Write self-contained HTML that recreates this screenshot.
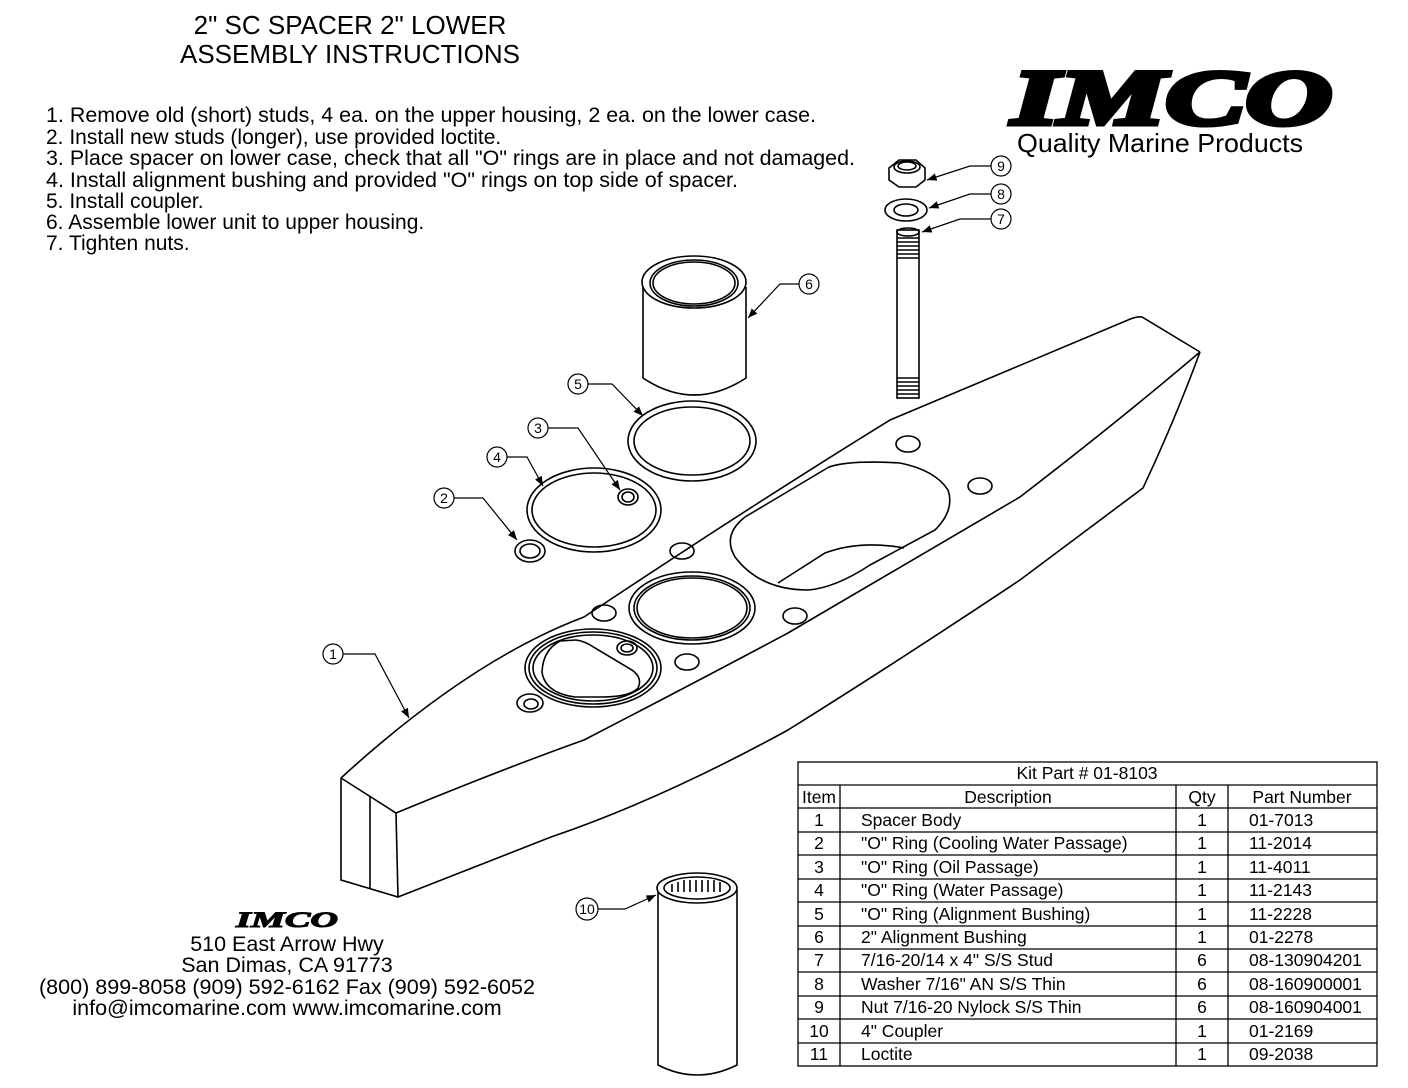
<!DOCTYPE html>
<html><head><meta charset="utf-8"><style>
body{margin:0;background:#fff;width:1408px;height:1088px;overflow:hidden}
svg{display:block}
text{font-family:"Liberation Sans",sans-serif;fill:#000}
</style></head><body>
<svg width="1408" height="1088" viewBox="0 0 1408 1088" xmlns="http://www.w3.org/2000/svg">
<defs>
<marker id="ar" viewBox="0 0 10 10" refX="10" refY="5" markerWidth="8" markerHeight="8" orient="auto"><path d="M0,1 L10,5 L0,9 z" fill="#000"/></marker>
</defs>
<g font-size="26" text-anchor="middle">
<text x="350" y="34">2" SC SPACER 2" LOWER</text>
<text x="350" y="63">ASSEMBLY INSTRUCTIONS</text>
</g>
<g font-size="21">
<text x="46" y="122" textLength="770" lengthAdjust="spacingAndGlyphs">1.  Remove old (short) studs, 4 ea. on the upper housing, 2 ea. on the lower case.</text>
<text x="46" y="144">2.  Install new studs (longer), use provided loctite.</text>
<text x="46" y="165" textLength="809" lengthAdjust="spacingAndGlyphs">3.  Place spacer on lower case, check that all "O" rings are in place and not damaged.</text>
<text x="46" y="187" textLength="692" lengthAdjust="spacingAndGlyphs">4.  Install alignment bushing and provided "O" rings on top side of spacer.</text>
<text x="46" y="208">5.  Install coupler.</text>
<text x="46" y="229">6.  Assemble lower unit to upper housing.</text>
<text x="46" y="250">7.  Tighten nuts.</text>
</g>
<!-- logo -->
<text x="1172" y="124" font-size="78" font-weight="bold" font-style="italic" text-anchor="middle" style="font-family:'Liberation Serif',serif" fill="#000" stroke="#000" stroke-width="5" textLength="320" lengthAdjust="spacingAndGlyphs">IMCO</text>
<text x="1160" y="152" font-size="26" text-anchor="middle" textLength="286" lengthAdjust="spacingAndGlyphs">Quality Marine Products</text>

<g fill="none" stroke="#000" stroke-width="1.6">
<!-- body -->
<path d="M341,778 Q470,660 584,617 Q760,500 890,420 L1128,320 Q1137,316 1142,317 L1200,352"/>
<path d="M341,778 L396,813 Q500,770 584,740 Q700,680 788,633 L1020,497 Q1120,420 1200,352"/>
<path d="M1200,352 Q1175,420 1143,488 L1020,580 Q900,660 788,730 Q660,800 551,837 L398,897 L341,880 L341,778"/>
<path d="M396,813 L398,897 M370,797 L370,888"/>
<!-- holes -->
<ellipse cx="908" cy="444" rx="12" ry="8"/>
<ellipse cx="980" cy="486" rx="12" ry="8"/>
<ellipse cx="682" cy="551" rx="12" ry="8"/>
<ellipse cx="604" cy="613" rx="12" ry="8"/>
<ellipse cx="795" cy="616" rx="12" ry="8"/>
<ellipse cx="687" cy="662" rx="12" ry="8"/>
<!-- pocket -->
<path d="M829,467 L745,517 Q722,535 735,557 Q760,590 808,590 Q835,588 870,565 L935,530 Q955,510 948,490 Q935,470 900,463 Q850,460 829,467 Z"/>
<path d="M778,583 L825,553 Q860,540 904,548"/>
<!-- ring middle -->
<ellipse cx="692" cy="608" rx="63" ry="36"/>
<ellipse cx="692" cy="608" rx="58" ry="32"/>
<ellipse cx="692" cy="608" rx="55" ry="30"/>
<!-- ring lower -->
<ellipse cx="593" cy="668" rx="68" ry="39"/>
<ellipse cx="593" cy="668" rx="64" ry="36"/>
<ellipse cx="593" cy="668" rx="60" ry="33"/>
<path d="M560,641 L576,640 Q585,641 595,648 L632,670 Q643,678 638,688 Q630,697 600,697 L575,697 Q545,693 542,672 Q543,650 560,641 Z"/>
<ellipse cx="627" cy="648" rx="10" ry="7"/><ellipse cx="627" cy="648" rx="6" ry="4"/>
<ellipse cx="530" cy="703" rx="13" ry="9"/><ellipse cx="531" cy="704" rx="7" ry="5"/>
<!-- bushing -->
<path d="M643,287 L643,378 Q694,412 746,378 L746,287"/>
<ellipse cx="694" cy="282" rx="52" ry="26" fill="#fff"/>
<ellipse cx="694" cy="283" rx="41" ry="21"/>
<ellipse cx="694" cy="283" rx="44" ry="23"/>
<!-- ring 5 -->
<ellipse cx="692" cy="441" rx="64" ry="40"/><ellipse cx="692" cy="441" rx="58" ry="34"/>
<!-- ring 4 -->
<ellipse cx="594" cy="510" rx="67" ry="42"/><ellipse cx="594" cy="510" rx="62" ry="37"/>
<ellipse cx="628" cy="497" rx="10" ry="8"/><ellipse cx="628" cy="497" rx="6" ry="5"/>
<ellipse cx="530" cy="551" rx="15" ry="11"/><ellipse cx="530" cy="551" rx="10" ry="7"/>
<!-- stud -->
<rect x="897" y="230" width="22" height="168" fill="#fff"/>
<ellipse cx="908" cy="232" rx="11" ry="4"/>
<path d="M897,238 H919 M897,242 H919 M897,246 H919 M897,250 H919 M897,254 H919 M897,258 H919 M897,378 H919 M897,382 H919 M897,386 H919 M897,390 H919 M897,394 H919"/>
<!-- washer -->
<ellipse cx="906" cy="210" rx="21" ry="11"/><ellipse cx="906" cy="210" rx="12" ry="6"/>
<!-- nut -->
<path d="M889,168 L899,160 L916,160 L925,168 L925,180 L916,187 L899,187 L889,180 Z"/>
<ellipse cx="907" cy="167" rx="13" ry="6"/><ellipse cx="907" cy="166" rx="9" ry="4"/>
<!-- coupler -->
<path d="M658,890 L658,1065 Q697,1085 737,1065 L737,890"/>
<ellipse cx="697" cy="888" rx="40" ry="15" fill="#fff"/>
<ellipse cx="697" cy="888" rx="33" ry="11"/>
<path d="M672,884 v8 M678,882 v10 M684,880 v12 M690,880 v12 M696,880 v12 M702,880 v12 M708,880 v12 M714,880 v12 M720,882 v10"/>
</g>
<!-- callouts -->
<g fill="none" stroke="#000" stroke-width="1.2">
<circle cx="333" cy="654" r="10"/><path d="M343,654 H375 L409,718" marker-end="url(#ar)"/>
<circle cx="444" cy="498" r="10"/><path d="M454,498 H483 L517,540" marker-end="url(#ar)"/>
<circle cx="497" cy="457" r="10"/><path d="M507,457 H527 L543,486" marker-end="url(#ar)"/>
<circle cx="538" cy="428" r="10"/><path d="M548,428 H578 L620,490" marker-end="url(#ar)"/>
<circle cx="578" cy="384" r="10"/><path d="M588,384 H612 L643,416" marker-end="url(#ar)"/>
<circle cx="809" cy="284" r="10"/><path d="M799,284 H780 L748,318" marker-end="url(#ar)"/>
<circle cx="1001" cy="166" r="10"/><path d="M991,166 H970 L927,180" marker-end="url(#ar)"/>
<circle cx="1001" cy="194" r="10"/><path d="M991,194 H970 L929,208" marker-end="url(#ar)"/>
<circle cx="1001" cy="219" r="10"/><path d="M991,219 H960 L922,232" marker-end="url(#ar)"/>
<circle cx="587" cy="909" r="11"/><path d="M598,909 H625 L656,895" marker-end="url(#ar)"/>
</g>
<g font-size="14" text-anchor="middle">
<text x="333" y="659">1</text><text x="444" y="503">2</text><text x="497" y="462">4</text><text x="538" y="433">3</text><text x="578" y="389">5</text><text x="809" y="289">6</text><text x="1001" y="171">9</text><text x="1001" y="199">8</text><text x="1001" y="224">7</text><text x="587" y="914">10</text>
</g>
<!-- address -->
<text x="287" y="927" font-size="22" font-weight="bold" font-style="italic" text-anchor="middle" style="font-family:'Liberation Serif',serif" stroke="#000" stroke-width="1" textLength="102" lengthAdjust="spacingAndGlyphs">IMCO</text>
<g font-size="21.5" text-anchor="middle">
<text x="287" y="951">510 East Arrow Hwy</text>
<text x="287" y="972">San Dimas, CA 91773</text>
<text x="287" y="994" textLength="496" lengthAdjust="spacingAndGlyphs">(800) 899-8058 (909) 592-6162  Fax (909) 592-6052</text>
<text x="287" y="1015">info@imcomarine.com  www.imcomarine.com</text>
</g>
<!-- table -->
<g stroke="#000" stroke-width="1.3" fill="none">
<rect x="798" y="762" width="579" height="304"/>
<path d="M798,785 H1377 M798,808 H1377"/>
<path d="M840,785 V1066 M1176,785 V1066 M1228,785 V1066"/>
<path d="M798,832 H1377 M798,855 H1377 M798,879 H1377 M798,902 H1377 M798,926 H1377 M798,949 H1377 M798,972 H1377 M798,996 H1377 M798,1019 H1377 M798,1043 H1377"/>
</g>
<g font-size="17.5">
<text x="1087" y="779" text-anchor="middle">Kit Part # 01-8103</text>
<text x="819" y="803" text-anchor="middle">Item</text>
<text x="1008" y="803" text-anchor="middle">Description</text>
<text x="1202" y="803" text-anchor="middle">Qty</text>
<text x="1302" y="803" text-anchor="middle">Part Number</text>
</g>
<g font-size="17.5">
<g text-anchor="middle">
<text x="819" y="826">1</text><text x="819" y="849">2</text><text x="819" y="873">3</text><text x="819" y="896">4</text><text x="819" y="920">5</text><text x="819" y="943">6</text><text x="819" y="966">7</text><text x="819" y="990">8</text><text x="819" y="1013">9</text><text x="819" y="1037">10</text><text x="819" y="1060">11</text>
<text x="1202" y="826">1</text><text x="1202" y="849">1</text><text x="1202" y="873">1</text><text x="1202" y="896">1</text><text x="1202" y="920">1</text><text x="1202" y="943">1</text><text x="1202" y="966">6</text><text x="1202" y="990">6</text><text x="1202" y="1013">6</text><text x="1202" y="1037">1</text><text x="1202" y="1060">1</text>
</g>
<text x="861" y="826">Spacer Body</text>
<text x="861" y="849">"O" Ring (Cooling Water Passage)</text>
<text x="861" y="873">"O" Ring (Oil Passage)</text>
<text x="861" y="896">"O" Ring (Water Passage)</text>
<text x="861" y="920">"O" Ring (Alignment Bushing)</text>
<text x="861" y="943">2" Alignment Bushing</text>
<text x="861" y="966">7/16-20/14 x 4" S/S Stud</text>
<text x="861" y="990">Washer 7/16" AN S/S Thin</text>
<text x="861" y="1013">Nut 7/16-20 Nylock S/S Thin</text>
<text x="861" y="1037">4" Coupler</text>
<text x="861" y="1060">Loctite</text>
<text x="1249" y="826">01-7013</text><text x="1249" y="849">11-2014</text><text x="1249" y="873">11-4011</text><text x="1249" y="896">11-2143</text><text x="1249" y="920">11-2228</text><text x="1249" y="943">01-2278</text><text x="1249" y="966">08-130904201</text><text x="1249" y="990">08-160900001</text><text x="1249" y="1013">08-160904001</text><text x="1249" y="1037">01-2169</text><text x="1249" y="1060">09-2038</text>
</g>
</svg>
</body></html>
